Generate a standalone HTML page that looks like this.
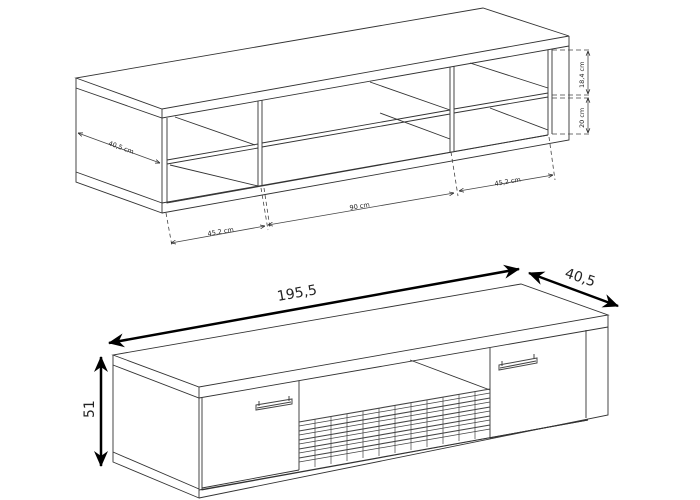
<!DOCTYPE html>
<html><head><meta charset="utf-8"><style>
html,body{margin:0;padding:0;background:#fff}
svg{display:block}
text{font-family:"DejaVu Sans","Liberation Sans",sans-serif;fill:#222}
</style></head><body>
<svg width="700" height="500" viewBox="0 0 700 500" xmlns="http://www.w3.org/2000/svg">
<defs>
<marker id="a" viewBox="0 0 10 10" refX="10" refY="5" markerWidth="6" markerHeight="6" orient="auto-start-reverse"><path d="M0,1 L10,5 L0,9" fill="none" stroke="#222" stroke-width="1.5"/></marker>
<marker id="b" viewBox="0 0 16 14" refX="15" refY="7" markerWidth="16" markerHeight="14" markerUnits="userSpaceOnUse" orient="auto-start-reverse"><path d="M0,0 L16,7 L0,14 L5,7z" fill="#000"/></marker>
</defs>
<g fill="none" stroke="#333" stroke-width="0.9">
<!-- TOP DRAWING -->
<path d="M76,78 L162,109 L569,36 L483,8 Z"/>
<path d="M76,78 V182 L162,213 V109"/>
<path d="M76,88 L162,118 L569,46"/>
<path d="M76,172 L162,203"/>
<path d="M569,36 V140 L162,213"/>
<path d="M167,118 V203 L548,135"/>
<path d="M162,203 L548,135"/>
<path d="M548,50 V135 M552,49 V134"/>
<path d="M258,101 V186 M262,100 V186"/>
<path d="M450,67 V152 M454,66 V151"/>
<path d="M167,160 L258,144 M167,164 L258,148"/>
<path d="M262,143 L450,110 M262,147 L450,114"/>
<path d="M454,109 L548,93 M454,113 L548,97"/>
<path d="M175,117 L255,145 M170,165 L258,186"/>
<path d="M370,82 L450,110 M380,113 L450,139"/>
<path d="M470,63 L548,88 M490,108 L548,130"/>
<!-- dims -->
<g stroke="#444" stroke-width="0.8">
<path d="M78,133 L160,163" marker-start="url(#a)" marker-end="url(#a)"/>
<path d="M166,213 L172,246 M261,188 L268,230 M264,188 L270,228 M451,152 L458,196 M549,137 L555,180" stroke-dasharray="4,3"/>
<path d="M171,243 L265,226" marker-start="url(#a)" marker-end="url(#a)"/>
<path d="M268,225 L454,193" marker-start="url(#a)" marker-end="url(#a)"/>
<path d="M459,191 L553,175" marker-start="url(#a)" marker-end="url(#a)"/>
<path d="M552,50 H592 M552,95 H590 M552,98 H590 M552,134 H592" stroke-dasharray="5,3"/>
<path d="M588,51 V94" marker-start="url(#a)" marker-end="url(#a)"/>
<path d="M588,98 V133" marker-start="url(#a)" marker-end="url(#a)"/>
</g>
<!-- BOTTOM DRAWING -->
<path d="M113,355 L199,387 L608,315 L521,284 Z"/>
<path d="M113,355 V462 L199,498 V387"/>
<path d="M113,365 L199,398 L608,327"/>
<path d="M113,452 L199,489"/>
<path d="M608,315 V415 L199,498"/>
<path d="M202,398 V490 L588,420"/>
<path d="M199,490 L588,420"/>
<path d="M299,381 V470 M490,348 V438 M586,330 V418"/>
<path d="M202,488 L299,470 M490,438 L586,420"/>
<path d="M410,360 L490,390"/>
</g>
<!-- grille -->
<g fill="none" stroke="#444" stroke-width="0.7">
<path d="M299,422 L490,389 M299,431 L490,398 M299,440 L490,407 M299,449 L490,416 M299,458 L490,425" stroke-width="1.1"/>
<path d="M299,426 L490,393 M299,435 L490,402 M299,444 L490,411 M299,453 L490,420 M299,462 L490,429"/>
<path d="M315,419 V467 M331,416 V464 M347,414 V461 M363,411 V458 M379,408 V456 M395,405 V453 M411,402 V450 M427,400 V447 M443,397 V444 M459,394 V441 M475,391 V439"/>
</g>
<!-- handles -->
<g fill="none" stroke="#444" stroke-width="1">
<path d="M256,405 L292,399 L292,404 L256,410 Z M257,408 L291,402"/>
<path d="M259,401 V406 M289,396 V401"/>
<path d="M499,365 L537,358 L537,363 L499,370 Z M500,368 L536,361"/>
<path d="M502,361 V366 M534,354 V359"/>
</g>
<!-- big arrows -->
<g stroke="#000" stroke-width="2.5" fill="none">
<path d="M109,343 L519,269" marker-start="url(#b)" marker-end="url(#b)"/>
<path d="M529,273 L618,306" marker-start="url(#b)" marker-end="url(#b)"/>
<path d="M101,357 V466" marker-start="url(#b)" marker-end="url(#b)"/>
</g>
<g font-size="6.5">
<text transform="translate(108,145) rotate(20)">40,5 cm</text>
<text transform="translate(208,236) rotate(-10)">45,2 cm</text>
<text transform="translate(350,210) rotate(-10)">90 cm</text>
<text transform="translate(495,186) rotate(-10)">45,2 cm</text>
<text transform="translate(584,88) rotate(-90)">18,4 cm</text>
<text transform="translate(584,128) rotate(-90)">20 cm</text>
</g>
<text transform="translate(278,301) rotate(-10)" font-size="14">195,5</text>
<text transform="translate(564,277) rotate(18)" font-size="14">40,5</text>
<text transform="translate(94,418) rotate(-90)" font-size="14">51</text>
</svg>
</body></html>
